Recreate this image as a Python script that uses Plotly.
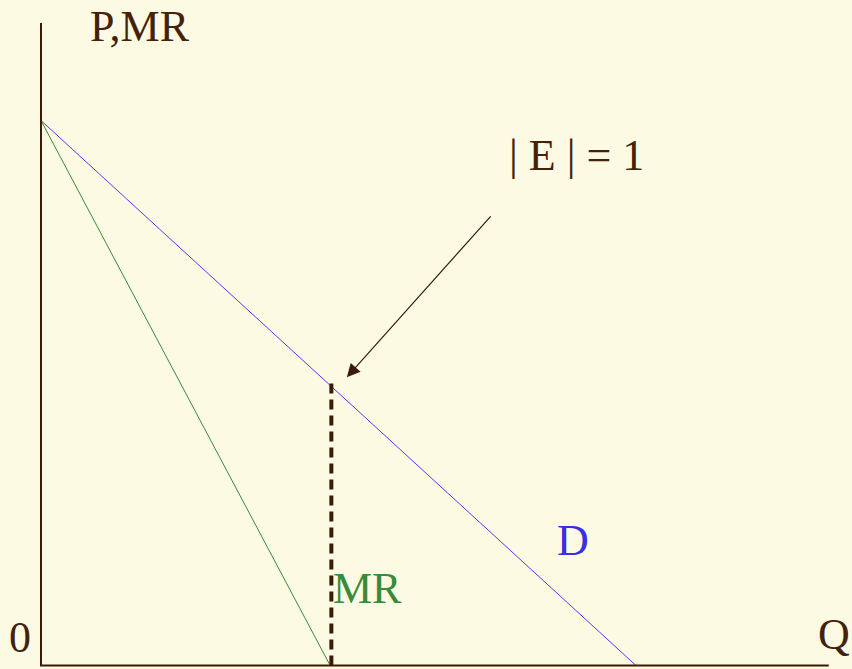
import plotly.graph_objects as go

# Data (economic units)
demand_q = [0, 10]
demand_p = [10, 0]
mr_q = [0, 4.86]
mr_p = [10, 0]
unit_q = [4.88, 4.88]
unit_p = [0, 5.2]
arrow_from = (7.58, 8.27)
arrow_to = (5.14, 5.29)
axis_top_p = 11.79
axis_right_q = 13.24

W, H = 852, 669
XR = [-41 / 59.5, (W - 41) / 59.5]
YR = [-3.5 / 54.5, 665.5 / 54.5]

def px(x):
    return x / W

def py(y):
    return 1 - y / H

BROWN = "#44220A"
BG = "#FCFAE3"
FONT = "Liberation Serif"

fig = go.Figure()
fig.add_trace(go.Scatter(x=demand_q, y=demand_p, mode="lines",
                         line=dict(color="#4B3BFF", width=1), hoverinfo="skip"))
fig.add_trace(go.Scatter(x=mr_q, y=mr_p, mode="lines",
                         line=dict(color="#3A8A3A", width=1), hoverinfo="skip"))
fig.add_trace(go.Scatter(x=unit_q, y=unit_p, mode="lines",
                         line=dict(color="#3A1C05", width=4, dash="10px,6px"), hoverinfo="skip"))
# axes
fig.add_trace(go.Scatter(x=[0, 0, axis_right_q], y=[axis_top_p, 0, 0], mode="lines",
                         line=dict(color="#3A1C05", width=2), hoverinfo="skip"))

def label(text, x, y, color, xanchor="left"):
    fig.add_annotation(text=text, x=px(x), y=py(y), xref="paper", yref="paper",
                       xanchor=xanchor, yanchor="middle", showarrow=False,
                       font=dict(family=FONT, size=44, color=color))

label("P,MR", 88, 26, BROWN)
label("| E | = 1", 507, 155, BROWN)
label("D", 555, 540, "#3A2EE6")
label("MR", 331, 588, "#3A8A3A")
label("0", 7, 637, BROWN)
label("Q", 816, 634, BROWN)

fig.add_annotation(x=arrow_to[0], y=arrow_to[1], ax=arrow_from[0], ay=arrow_from[1],
                   xref="x", yref="y", axref="x", ayref="y", text="",
                   showarrow=True, arrowhead=2, arrowsize=2.2, arrowwidth=1.2,
                   arrowcolor="#3A1C05", standoff=0)

fig.update_layout(width=W, height=H, margin=dict(l=0, r=0, t=0, b=0),
                  paper_bgcolor=BG, plot_bgcolor=BG, showlegend=False,
                  xaxis=dict(range=XR, visible=False, fixedrange=True),
                  yaxis=dict(range=YR, visible=False, fixedrange=True))
fig.write_html("out.html", config={"displayModeBar": False},
               post_script="document.body.style.margin='0';document.body.style.background='" + BG + "';")
